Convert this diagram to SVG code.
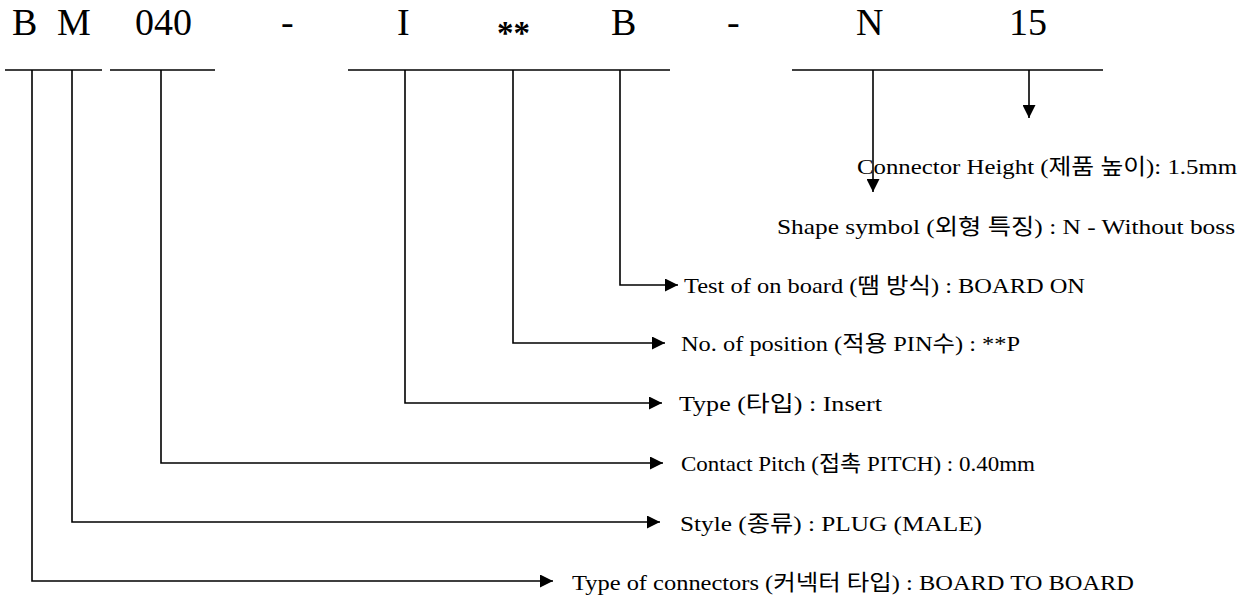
<svg xmlns="http://www.w3.org/2000/svg" width="1254" height="603" viewBox="0 0 1254 603">
<style>
.code{font-family:"Liberation Serif","Noto Sans CJK KR",serif;font-size:38px;fill:#000}
.lbl{font-family:"Liberation Serif","Noto Sans CJK KR",serif;font-size:22px;fill:#000}
.ln{fill:none;stroke:#000;stroke-width:1.6}
</style>
<defs>
<marker id="ah" viewBox="0 0 10 10" refX="10" refY="5" markerUnits="userSpaceOnUse" markerWidth="16" markerHeight="13" orient="auto">
<path d="M0,0 L10,5 L0,10 z" fill="#000"/>
</marker>
</defs>
<rect width="1254" height="603" fill="#fff"/>
<g id="code">
<text class="code" x="12" y="35">B</text>
<text class="code" x="57" y="35">M</text>
<text class="code" x="135" y="35">040</text>
<text class="code" x="281" y="35">-</text>
<text class="code" x="397" y="35">I</text>
<text class="code" x="497" y="44" style="font-size:34px;font-weight:bold" textLength="33" lengthAdjust="spacingAndGlyphs">**</text>
<text class="code" x="611" y="35">B</text>
<text class="code" x="727" y="35">-</text>
<text class="code" x="856" y="35">N</text>
<text class="code" x="1009" y="35">15</text>
</g>
<g id="underlines">
<line class="ln" x1="5" y1="70" x2="102" y2="70"/>
<line class="ln" x1="110" y1="70" x2="215" y2="70"/>
<line class="ln" x1="348" y1="70" x2="670" y2="70"/>
<line class="ln" x1="792" y1="70" x2="1103" y2="70"/>
</g>
<g id="connectors">
<path class="ln" d="M1029,70 V118" marker-end="url(#ah)"/>
<path class="ln" d="M873,70 V192" marker-end="url(#ah)"/>
<path class="ln" d="M620,70 V285 H678" marker-end="url(#ah)"/>
<path class="ln" d="M513,70 V343 H665" marker-end="url(#ah)"/>
<path class="ln" d="M405,70 V403 H662" marker-end="url(#ah)"/>
<path class="ln" d="M161,70 V463 H663" marker-end="url(#ah)"/>
<path class="ln" d="M72,70 V522 H660" marker-end="url(#ah)"/>
<path class="ln" d="M32,70 V581 H553" marker-end="url(#ah)"/>
</g>
<g id="label-height"><text class="lbl" x="857" y="174" textLength="380" lengthAdjust="spacingAndGlyphs">Connector Height (제품 높이): 1.5mm</text></g>
<g id="label-shape"><text class="lbl" x="777" y="234" textLength="458" lengthAdjust="spacingAndGlyphs">Shape symbol (외형 특징) : N - Without boss</text></g>
<g id="label-test"><text class="lbl" x="684" y="293" textLength="401" lengthAdjust="spacingAndGlyphs">Test of on board (땜 방식) : BOARD ON</text></g>
<g id="label-position"><text class="lbl" x="681" y="351" textLength="339" lengthAdjust="spacingAndGlyphs">No. of position (적용 PIN수) : **P</text></g>
<g id="label-type"><text class="lbl" x="679" y="411" textLength="203" lengthAdjust="spacingAndGlyphs">Type (타입) : Insert</text></g>
<g id="label-pitch"><text class="lbl" x="681" y="471" textLength="354" lengthAdjust="spacingAndGlyphs">Contact Pitch (접촉 PITCH) : 0.40mm</text></g>
<g id="label-style"><text class="lbl" x="680" y="531" textLength="302" lengthAdjust="spacingAndGlyphs">Style (종류) : PLUG (MALE)</text></g>
<g id="label-connectors"><text class="lbl" x="572" y="590" textLength="562" lengthAdjust="spacingAndGlyphs">Type of connectors (커넥터 타입) : BOARD TO BOARD</text></g>
</svg>
